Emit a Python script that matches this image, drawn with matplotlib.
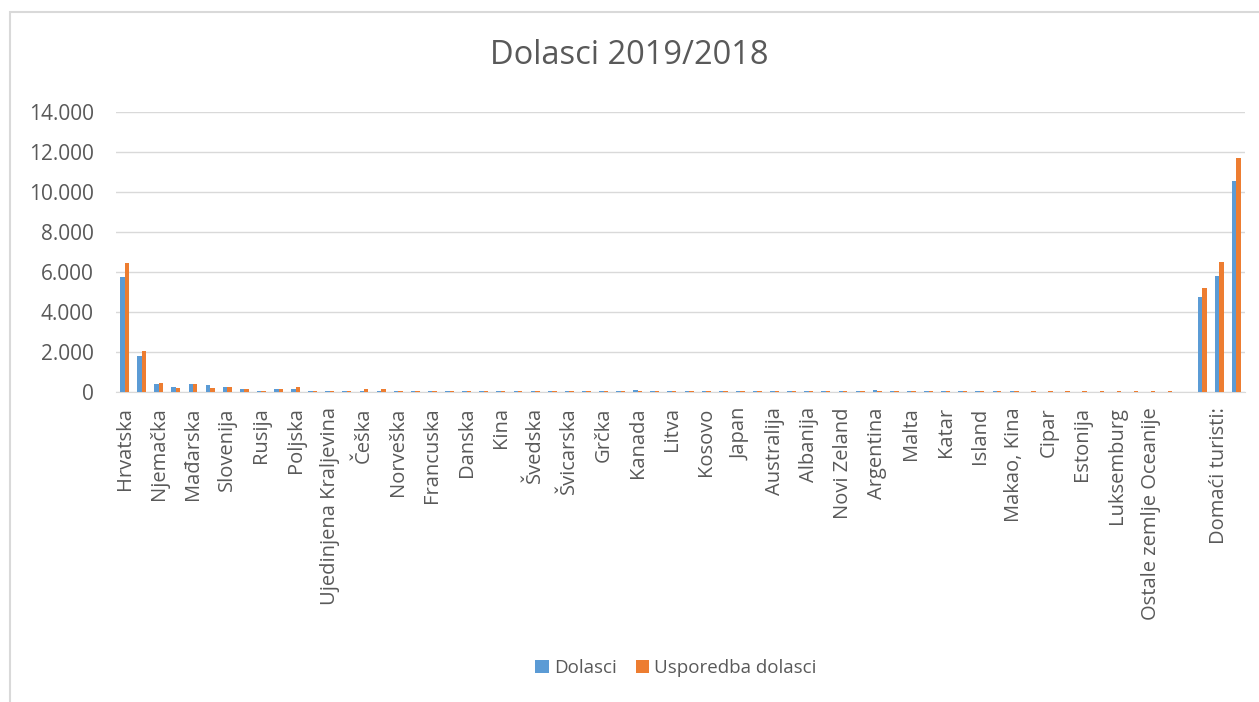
import numpy as np
import matplotlib
matplotlib.use('Agg')
import matplotlib.pyplot as plt
from matplotlib.patches import Rectangle
from matplotlib.ticker import FuncFormatter

plt.rcParams['font.family'] = ['Open Sans', 'DejaVu Sans']

#Data (every other category label is hidden in the original chart)
categories = ['Hrvatska', '', 'Njemačka', '', 'Mađarska', '', 'Slovenija', '', 'Rusija', '',
              'Poljska', '', 'Ujedinjena Kraljevina', '', 'Češka', '', 'Norveška', '', 'Francuska', '',
              'Danska', '', 'Kina', '', 'Švedska', '', 'Švicarska', '', 'Grčka', '',
              'Kanada', '', 'Litva', '', 'Kosovo', '', 'Japan', '', 'Australija', '',
              'Albanija', '', 'Novi Zeland', '', 'Argentina', '', 'Malta', '', 'Katar', '',
              'Island', '', 'Makao, Kina', '', 'Cipar', '', 'Estonija', '', 'Luksemburg', '',
              'Ostale zemlje Oceanije', '', '', '', 'Domaći turisti:', '']

dolasci = [5750, 1800, 400, 270, 400, 330, 270, 130, 70, 130,
           130, 70, 70, 70, 70, 70, 70, 70, 70, 70,
           70, 70, 70, 70, 70, 40, 70, 70, 70, 70,
           80, 70, 70, 40, 70, 70, 70, 60, 70, 60,
           70, 70, 70, 60, 80, 70, 70, 60, 70, 70,
           70, 70, 40, 0, 0, 0, 0, 0, 0, 0,
           0, 0, 0, 4750, 5800, 10550]

usporedba = [6450, 2050, 470, 200, 400, 200, 270, 130, 70, 130,
             270, 70, 70, 70, 150, 150, 70, 70, 70, 70,
             70, 70, 70, 70, 70, 70, 70, 70, 70, 70,
             70, 70, 70, 70, 70, 70, 70, 40, 70, 40,
             70, 70, 70, 60, 70, 70, 40, 70, 70, 70,
             40, 70, 40, 50, 50, 50, 50, 50, 50, 50,
             50, 40, 0, 5200, 6480, 11680]

blue = '#5B9BD5'
orange = '#ED7D31'
grey_text = '#595959'

fig = plt.figure(figsize=(12.59, 7.02), dpi=100)
ax = fig.add_axes([116/1259, 310/702, 1129/1259, 280/702])

x = np.arange(len(categories))
w = 0.26
ax.bar(x - w/2, dolasci, width=w, color=blue, label='Dolasci', zorder=3)
ax.bar(x + w/2, usporedba, width=w, color=orange, label='Usporedba dolasci', zorder=3)

ax.set_xlim(-0.5, len(categories) - 0.5)
ax.set_ylim(0, 14000)
ax.set_yticks(np.arange(0, 14001, 2000))
ax.yaxis.set_major_formatter(FuncFormatter(lambda v, p: '0' if v == 0 else f'{int(v):,}'.replace(',', '.')))
ax.set_xticks(x)
ax.set_xticklabels(categories, rotation=90)

ax.grid(axis='y', color='#D9D9D9', linewidth=1, zorder=0)
for s in ['top', 'right', 'left']:
    ax.spines[s].set_visible(False)
ax.spines['bottom'].set_color('#D9D9D9')
ax.tick_params(axis='both', length=0, colors=grey_text)
ax.tick_params(axis='x', pad=11, labelsize=14.5)
ax.tick_params(axis='y', pad=16, labelsize=15)

fig.text(0.5, 1 - 56/702, 'Dolasci 2019/2018', ha='center', va='center',
         fontsize=23.5, color=grey_text)

fig.legend(loc='center', bbox_to_anchor=(0.537, 1 - 668/702), ncol=2, frameon=False,
           fontsize=13.5, handlelength=0.7, handleheight=0.7, handletextpad=0.3,
           columnspacing=1.0, labelcolor=grey_text)

#Chart frame
fig.patches.append(Rectangle((10/1259, -0.1), 1.2, 1 - 12/702 + 0.1, transform=fig.transFigure,
                             fill=False, edgecolor='#D9D9D9', linewidth=1.5))

plt.savefig('out.png', dpi=100)
